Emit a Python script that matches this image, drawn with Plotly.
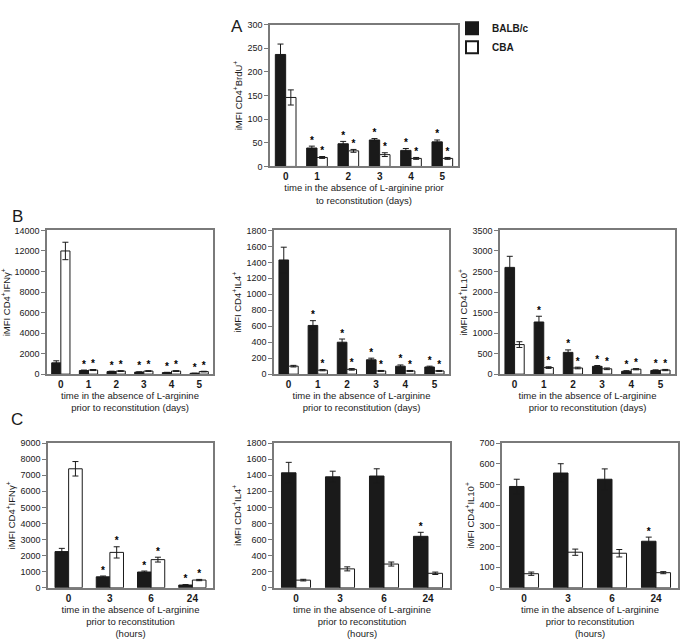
import plotly.graph_objects as go

# ---------------- data ----------------
days = ["0", "1", "2", "3", "4", "5"]
hours = ["0", "3", "6", "24"]

# Panel A: iMFI CD4+BrdU+
a_balb = [237, 39, 48, 56, 34, 52]
a_balb_err = [22, 4, 5, 3, 4, 4]
a_cba = [146, 19, 33, 25, 17, 17]
a_cba_err = [16, 2, 3, 4, 2, 2]
a_balb_sig = [0, 1, 1, 1, 1, 1]
a_cba_sig = [0, 1, 1, 1, 1, 1]

# Panel B1: iMFI CD4+IFNg+ (days)
b1_balb = [1100, 350, 250, 200, 150, 80]
b1_balb_err = [200, 50, 40, 30, 30, 20]
b1_cba = [12000, 400, 300, 300, 300, 250]
b1_cba_err = [850, 50, 40, 40, 40, 30]
b1_balb_sig = [0, 1, 1, 1, 1, 1]
b1_cba_sig = [0, 1, 1, 1, 1, 1]

# Panel B2: iMFI CD4+IL4+ (days)
b2_balb = [1430, 610, 400, 180, 100, 90]
b2_balb_err = [160, 60, 40, 20, 15, 10]
b2_cba = [100, 50, 60, 40, 40, 40]
b2_cba_err = [10, 8, 10, 6, 6, 6]
b2_balb_sig = [0, 1, 1, 1, 1, 1]
b2_cba_sig = [0, 1, 1, 1, 1, 1]

# Panel B3: iMFI CD4+IL10+ (days)
b3_balb = [2600, 1270, 530, 190, 70, 90]
b3_balb_err = [270, 140, 60, 20, 15, 15]
b3_cba = [720, 160, 150, 130, 120, 100]
b3_cba_err = [70, 20, 20, 20, 15, 15]
b3_balb_sig = [0, 1, 1, 1, 1, 1]
b3_cba_sig = [0, 1, 1, 1, 1, 1]

# Panel C1: iMFI CD4+IFNg+ (hours)
c1_balb = [2250, 680, 980, 170]
c1_balb_err = [200, 50, 60, 30]
c1_cba = [7400, 2200, 1750, 480]
c1_cba_err = [450, 350, 150, 40]
c1_balb_sig = [0, 1, 1, 1]
c1_cba_sig = [0, 1, 1, 1]

# Panel C2: iMFI CD4+IL4+ (hours)
c2_balb = [1430, 1380, 1390, 640]
c2_balb_err = [130, 70, 90, 50]
c2_cba = [95, 235, 295, 180]
c2_cba_err = [10, 25, 25, 15]
c2_balb_sig = [0, 0, 0, 1]
c2_cba_sig = [0, 0, 0, 0]

# Panel C3: iMFI CD4+IL10+ (hours)
c3_balb = [490, 555, 525, 225]
c3_balb_err = [35, 45, 50, 20]
c3_cba = [68, 172, 167, 73]
c3_cba_err = [8, 15, 18, 5]
c3_balb_sig = [0, 0, 0, 1]
c3_cba_sig = [0, 0, 0, 0]

series_names = ["BALB/c", "CBA"]
xtitle_a = "time in the absence of L-arginine prior<br>to reconstitution (days)"
xtitle_b = "time in the absence of L-arginine<br>prior to reconstitution (days)"
xtitle_c = "time in the absence of L-arginine<br>prior to reconstitution<br>(hours)"

# ---------------- layout helpers ----------------
W, H = 682, 641
FONT = "Liberation Sans, Arial, sans-serif"
INK = "#1a1a1a"
AXC = "#7a7a7a"


def dx(a, b):
    return [a / W, b / W]


def dy(top, bottom):
    return [1 - bottom / H, 1 - top / H]


panels = [
    dict(cats=days, balb=a_balb, be=a_balb_err, cba=a_cba, ce=a_cba_err,
         bs=a_balb_sig, cs=a_cba_sig, ymax=300, dtick=50,
         ytitle="iMFI CD4<sup>+</sup>BrdU<sup>+</sup>", xtitle=xtitle_a,
         xd=dx(270, 458), yd=dy(20, 164)),
    dict(cats=days, balb=b1_balb, be=b1_balb_err, cba=b1_cba, ce=b1_cba_err,
         bs=b1_balb_sig, cs=b1_cba_sig, ymax=14000, dtick=2000,
         ytitle="iMFI CD4<sup>+</sup>IFNγ<sup>+</sup>", xtitle=xtitle_b,
         xd=dx(47, 213), yd=dy(229, 375)),
    dict(cats=days, balb=b2_balb, be=b2_balb_err, cba=b2_cba, ce=b2_cba_err,
         bs=b2_balb_sig, cs=b2_cba_sig, ymax=1800, dtick=200,
         ytitle="iMFI CD4<sup>+</sup>IL4<sup>+</sup>", xtitle=xtitle_b,
         xd=dx(274, 449), yd=dy(229, 375)),
    dict(cats=days, balb=b3_balb, be=b3_balb_err, cba=b3_cba, ce=b3_cba_err,
         bs=b3_balb_sig, cs=b3_cba_sig, ymax=3500, dtick=500,
         ytitle="iMFI CD4<sup>+</sup>IL10<sup>+</sup>", xtitle=xtitle_b,
         xd=dx(500, 675), yd=dy(229, 375)),
    dict(cats=hours, balb=c1_balb, be=c1_balb_err, cba=c1_cba, ce=c1_cba_err,
         bs=c1_balb_sig, cs=c1_cba_sig, ymax=9000, dtick=1000,
         ytitle="iMFI CD4<sup>+</sup>IFNγ<sup>+</sup>", xtitle=xtitle_c,
         xd=dx(48, 213), yd=dy(445, 592)),
    dict(cats=hours, balb=c2_balb, be=c2_balb_err, cba=c2_cba, ce=c2_cba_err,
         bs=c2_balb_sig, cs=c2_cba_sig, ymax=1800, dtick=200,
         ytitle="iMFI CD4<sup>+</sup>IL4<sup>+</sup>", xtitle=xtitle_c,
         xd=dx(274, 450), yd=dy(445, 592)),
    dict(cats=hours, balb=c3_balb, be=c3_balb_err, cba=c3_cba, ce=c3_cba_err,
         bs=c3_balb_sig, cs=c3_cba_sig, ymax=700, dtick=100,
         ytitle="iMFI CD4<sup>+</sup>IL10<sup>+</sup>", xtitle=xtitle_c,
         xd=dx(502, 678), yd=dy(445, 592)),
]

fig = go.Figure()
layout = {}

for i, p in enumerate(panels):
    n = "" if i == 0 else str(i + 1)
    xa, ya = "x" + n, "y" + n
    err_style = dict(type="data", visible=True, color=INK, thickness=1, width=3)
    fig.add_trace(go.Bar(
        x=p["cats"], y=p["balb"], name=series_names[0], xaxis=xa, yaxis=ya,
        marker=dict(color=INK, line=dict(color=INK, width=1)),
        error_y=dict(array=p["be"], **err_style), offsetgroup="1",
        showlegend=(i == 0), legendgroup="g"))
    fig.add_trace(go.Bar(
        x=p["cats"], y=p["cba"], name=series_names[1], xaxis=xa, yaxis=ya,
        marker=dict(color="white", line=dict(color=INK, width=1)),
        error_y=dict(array=p["ce"], **err_style), offsetgroup="2",
        showlegend=(i == 0), legendgroup="g"))
    # significance asterisks above the error bars (only significant points)
    for vals, errs, sig, grp in ((p["balb"], p["be"], p["bs"], "1"),
                                 (p["cba"], p["ce"], p["cs"], "2")):
        xs = [c for c, s in zip(p["cats"], sig) if s]
        ys = [v + e for v, e, s in zip(vals, errs, sig) if s]
        fig.add_trace(go.Scatter(
            x=xs, y=ys, xaxis=xa, yaxis=ya,
            mode="text", text=["*"] * len(xs),
            textposition="top center", offsetgroup=grp,
            textfont=dict(family=FONT, size=10, color="#000000", weight="bold"),
            showlegend=False, hoverinfo="skip", cliponaxis=False))

    ax_common = dict(showline=True, linecolor=AXC, linewidth=1.5, mirror=True,
                     showgrid=False, zeroline=False)
    layout["xaxis" + n] = dict(
        domain=p["xd"], anchor=ya, type="category", ticks="",
        categoryorder="array", categoryarray=p["cats"],
        tickfont=dict(family=FONT, size=10, color=INK, weight="bold"),
        title=dict(text=p["xtitle"], standoff=3,
                   font=dict(family=FONT, size=9.5, color=INK)),
        **ax_common)
    layout["yaxis" + n] = dict(
        domain=p["yd"], anchor=xa, range=[0, p["ymax"]], dtick=p["dtick"],
        tickformat="d",
        ticks="outside", ticklen=4, tickcolor=AXC, tickwidth=1,
        tickfont=dict(family=FONT, size=9, color=INK),
        title=dict(text=p["ytitle"], standoff=3,
                   font=dict(family=FONT, size=9.5, color=INK)),
        **ax_common)

fig.update_layout(
    width=W, height=H, margin=dict(l=0, r=0, t=0, b=0),
    paper_bgcolor="white", plot_bgcolor="white",
    barmode="group", bargap=0.34, bargroupgap=0.0, scattermode="group",
    font=dict(family=FONT, color=INK),
    legend=dict(x=452 / W, y=1 - 9 / H, xanchor="left", yanchor="top",
                font=dict(family=FONT, size=10, color=INK, weight="bold"),
                itemsizing="constant", tracegroupgap=0, bgcolor="rgba(0,0,0,0)"),
    annotations=[
        dict(text="A", x=237 / W, y=1 - 10 / H, xref="paper", yref="paper",
             showarrow=False, font=dict(family=FONT, size=17, color=INK)),
        dict(text="B", x=10 / W, y=1 - 215 / H, xref="paper", yref="paper",
             showarrow=False, font=dict(family=FONT, size=17, color=INK)),
        dict(text="C", x=9 / W, y=1 - 433 / H, xref="paper", yref="paper",
             showarrow=False, font=dict(family=FONT, size=17, color=INK)),
    ],
    **layout,
)

fig.write_html(
    "out.html",
    config={"displayModeBar": False},
    post_script="document.body.style.margin='0';document.body.style.overflow='hidden';",
)
